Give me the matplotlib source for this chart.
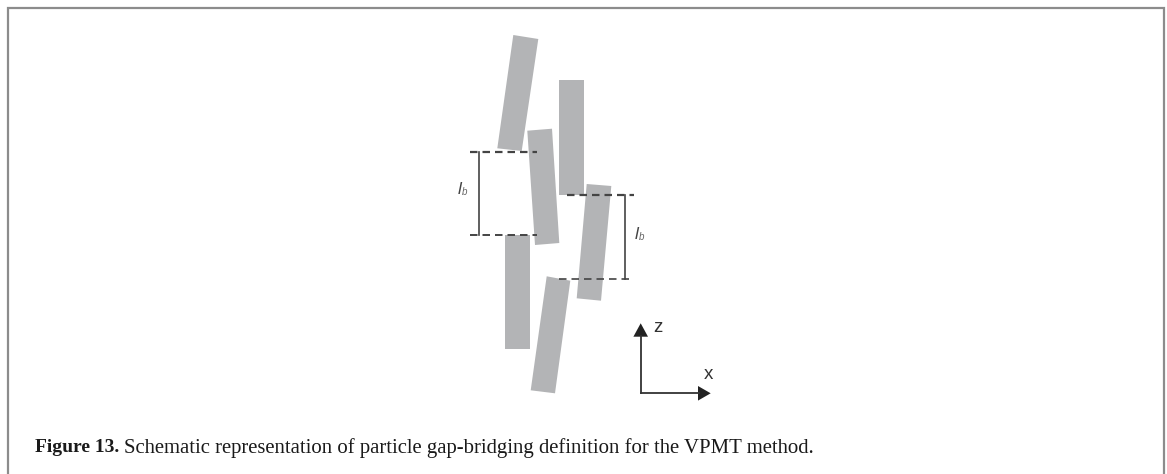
import matplotlib
matplotlib.use('Agg')
import matplotlib.pyplot as plt
from matplotlib.patches import Polygon

# particle outlines (x, z corners in image pixels)
particle_a = [(513.3, 35), (538.3, 39), (521.7, 151), (497.3, 148.3)]
particle_b = [(527.3, 130.7), (552, 128.7), (559.3, 243), (535, 245)]
particle_c = [(559.3, 80), (584, 80), (584, 194.7), (559.3, 194.7)]
particle_d = [(586.7, 184), (611.3, 186), (601, 300.7), (576.7, 298.3)]
particle_e = [(505.3, 235), (530, 235), (530, 349.3), (505.3, 349.3)]
particle_f = [(546.7, 276.3), (570.3, 280.7), (555, 393.3), (530.7, 390.3)]
particles = [particle_a, particle_b, particle_c, particle_d, particle_e, particle_f]

# dashed levels: z, x start, x end
dash_z = [152, 234.7, 194.7, 279.3]
dash_x0 = [470, 470, 567, 559]
dash_x1 = [537, 537, 634, 634]
dash_lw = [1.6, 1.4, 1.6, 1.2]

# bridging length brackets
bracket_x = [479.3, 624.7]
bracket_top = [152, 194.7]
bracket_bottom = [234.7, 279.3]
bracket_label_x = [458, 635]
bracket_label_z = [190, 234.5]

fig = plt.figure(figsize=(11.67, 4.74), dpi=100)
ax = fig.add_axes([0, 0, 1, 1])
ax.set_xlim(0, 1167)
ax.set_ylim(474, 0)
ax.axis('off')

# page frame, open at the bottom
ax.plot([7.5, 7.5, 1164, 1164], [474, 7.5, 7.5, 474], color='#8c8c8c', lw=1.6,
        solid_joinstyle='miter')

for p in particles:
    ax.add_patch(Polygon(p, closed=True, facecolor='#b3b4b6', edgecolor='none'))

for z, x0, x1, lw in zip(dash_z, dash_x0, dash_x1, dash_lw):
    ax.plot([x0, x1], [z, z], color='#444444', lw=lw, dashes=(4.5 * 1.2 / lw, 3 * 1.2 / lw))

for x, t, b in zip(bracket_x, bracket_top, bracket_bottom):
    ax.plot([x, x], [t, b], color='#444444', lw=1.2)

for x, z in zip(bracket_label_x, bracket_label_z):
    ax.text(x, z, 'l', family='Liberation Sans', style='italic', fontsize=12.5,
            color='#444444', va='center', ha='left')
    ax.text(x + 4, z + 2, 'b', family='Liberation Sans', style='italic', fontsize=7,
            color='#666666', va='center', ha='left')

# coordinate arrows
ax.plot([640.7, 640.7], [336, 393.3], color='#333333', lw=1.3)
ax.plot([640.7, 699], [393.3, 393.3], color='#333333', lw=1.3)
ax.add_patch(Polygon([(640.7, 323.3), (648, 336.7), (633.4, 336.7)], closed=True,
                     facecolor='#222222', edgecolor='none'))
ax.add_patch(Polygon([(710.7, 393.3), (698, 386), (698, 400.6)], closed=True,
                     facecolor='#222222', edgecolor='none'))
ax.text(657.5, 328, 'z', family='Liberation Sans', fontsize=13.5, color='#333333',
        ha='center', va='center')
ax.text(708, 374.5, 'x', family='Liberation Sans', fontsize=13.5, color='#333333',
        ha='center', va='center')

# caption
ax.text(35, 452.5, 'Figure 13.', family='Liberation Serif', weight='bold',
        fontsize=14, color='#1a1a1a', va='baseline', ha='left')
ax.text(124, 452.5, 'Schematic representation of particle gap-bridging definition for the VPMT method.',
        family='Liberation Serif', fontsize=14.95, color='#1a1a1a', va='baseline', ha='left')

fig.savefig('out.png', dpi=100)
